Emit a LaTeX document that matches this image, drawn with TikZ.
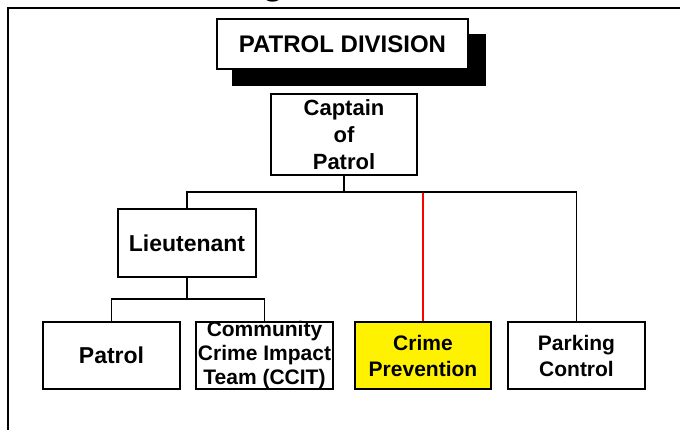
\documentclass[tikz,border=0pt]{standalone}
\usepackage{fontspec}
\setmainfont{Liberation Sans}
\begin{document}
\begin{tikzpicture}[x=1pt,y=-1pt,
  box/.style={draw=black,line width=1.6pt,fill=white,inner sep=0pt,align=center,font=\bfseries},
  conn/.style={line width=1.4pt,black},
  redconn/.style={line width=1.2pt,red}]
\useasboundingbox (0,0) rectangle (680,430);
% cut-off title fragment
\begin{scope}
\clip (0,0) rectangle (680,2.8);
\node[anchor=base,inner sep=0pt,font=\fontsize{36}{40}\selectfont\bfseries] (gfrag) at (273,-5) {g};
\end{scope}
% frame
\draw[line width=2pt] (8,430) -- (8,8) -- (680,8);
% title box with shadow
\fill[black] (232,34) rectangle (486,86);
\node[box,minimum width=251pt,minimum height=50pt,font=\fontsize{24}{28}\selectfont\bfseries] (div) at (342.5,44) {PATROL DIVISION};
% captain
\node[box,minimum width=146pt,minimum height=81pt,font=\fontsize{22}{27}\selectfont\bfseries] (cap) at (344,134.5) {Captain\\of\\Patrol};
% lieutenant
\node[box,minimum width=138pt,minimum height=68pt,font=\fontsize{23}{27}\selectfont\bfseries] (lt) at (187,243) {Lieutenant};
% bottom row
\node[box,minimum width=137pt,minimum height=67pt,font=\fontsize{23}{27}\selectfont\bfseries] (patrol) at (111.5,355.5) {Patrol};
\node[box,minimum width=137pt,minimum height=67pt,font=\fontsize{21}{24}\selectfont\bfseries] (ccit) at (264.5,355.5) {Community\\Crime Impact\\Team (CCIT)};
\node[box,fill=yellow,minimum width=136pt,minimum height=67pt,font=\fontsize{21}{26}\selectfont\bfseries] (cp) at (423,355.5) {Crime\\Prevention};
\node[box,minimum width=137pt,minimum height=67pt,font=\fontsize{21}{26}\selectfont\bfseries] (pc) at (576.5,355.5) {Parking\\Control};
% connectors
\coordinate (j1) at (344,192);
\coordinate (j2) at (187,299);
\draw[redconn] (j1) -| (cp.north);
\draw[conn] (cap.south) -- (j1);
\draw[conn] (lt.north) |- (j1) -| (pc.north);
\draw[conn] (lt.south) -- (j2);
\draw[conn] (patrol.north) |- (j2) -| (ccit.north);
\end{tikzpicture}
\end{document}
